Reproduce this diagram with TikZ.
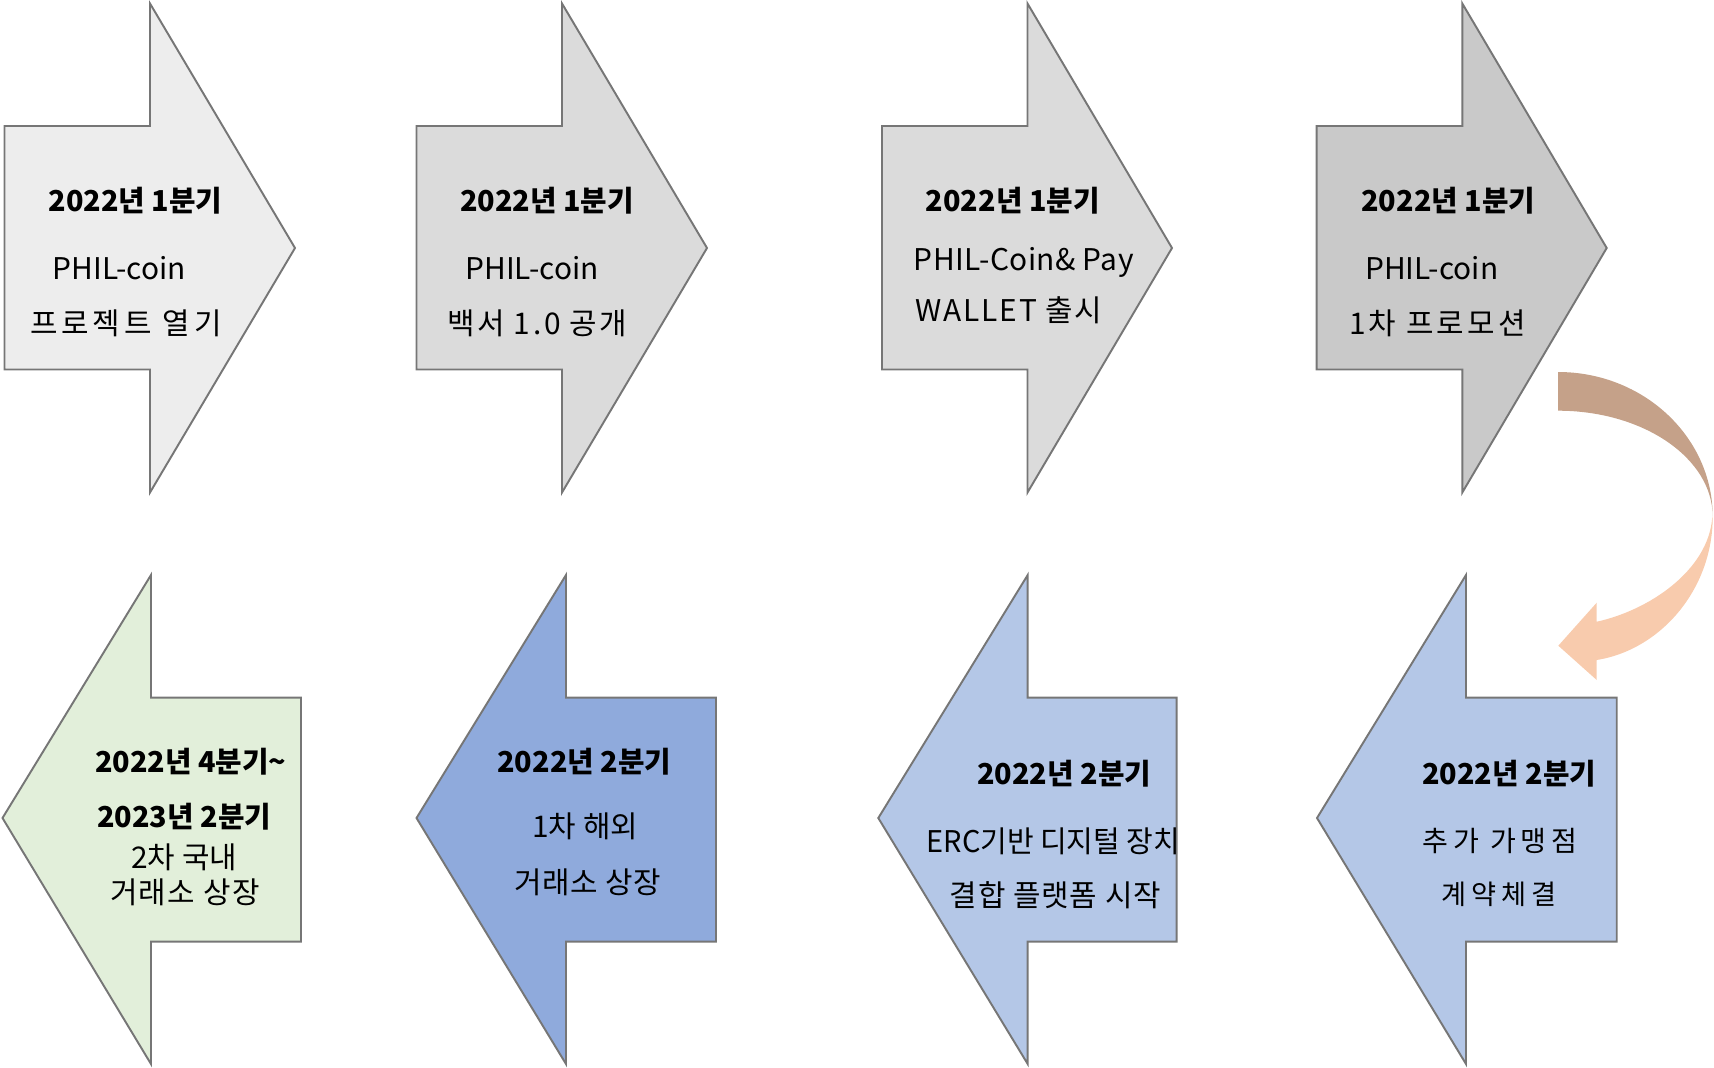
\documentclass[tikz,border=0pt]{standalone}
\usepackage{fontspec}
\setmainfont{Noto Sans CJK KR}
\usepackage{graphicx}
\definecolor{edgegray}{HTML}{767676}
\definecolor{fillA}{HTML}{EDEDED}
\definecolor{fillB}{HTML}{DBDBDB}
\definecolor{fillC}{HTML}{C9C9C9}
\definecolor{fillG}{HTML}{E2EFDA}
\definecolor{fillD}{HTML}{8FAADC}
\definecolor{fillL}{HTML}{B4C7E7}
\definecolor{curveTop}{HTML}{C5A189}
\definecolor{curveBot}{HTML}{F8CBAD}
\newcommand{\trk}[1]{\addfontfeature{LetterSpace=#1}}
\begin{document}
\begin{tikzpicture}[x=0.02cm,y=-0.02cm,
  shapebox/.style={draw=edgegray,line width=1.1pt,line join=miter},
  head/.style={font=\fontsize{16.4}{19}\selectfont\bfseries,inner sep=0pt},
  body/.style={font=\fontsize{17}{20}\selectfont,inner sep=0pt}]
\useasboundingbox (0,0) rectangle (1714,1068);
% top row: right-pointing arrows
\draw[shapebox,fill=fillA] (4.5,126) -- (150,126) -- (150,3.5) -- (295,248) -- (150,492.5) -- (150,369.5) -- (4.5,369.5) -- cycle;
\draw[shapebox,fill=fillB] (416.5,126) -- (562,126) -- (562,3.5) -- (707,248) -- (562,492.5) -- (562,369.5) -- (416.5,369.5) -- cycle;
\draw[shapebox,fill=fillB] (882,126) -- (1027.5,126) -- (1027.5,3.5) -- (1172,248) -- (1027.5,492.5) -- (1027.5,369.5) -- (882,369.5) -- cycle;
\draw[shapebox,fill=fillC] (1316.7,126) -- (1462.3,126) -- (1462.3,3.5) -- (1606.7,248) -- (1462.3,492.5) -- (1462.3,369.5) -- (1316.7,369.5) -- cycle;
% bottom row: left-pointing arrows
\draw[shapebox,fill=fillG] (2.5,818) -- (151,575) -- (151,697.7) -- (301,697.7) -- (301,941.7) -- (151,941.7) -- (151,1064) -- cycle;
\draw[shapebox,fill=fillD] (416.5,818) -- (566,575) -- (566,697.7) -- (716,697.7) -- (716,941.7) -- (566,941.7) -- (566,1064) -- cycle;
\draw[shapebox,fill=fillL] (878.3,818) -- (1027.7,575) -- (1027.7,697.7) -- (1176.7,697.7) -- (1176.7,941.7) -- (1027.7,941.7) -- (1027.7,1064) -- cycle;
\draw[shapebox,fill=fillL] (1317,818) -- (1466,575) -- (1466,697.7) -- (1616.7,697.7) -- (1616.7,941.7) -- (1466,941.7) -- (1466,1064) -- cycle;
% curved connector arrow
\fill[curveTop] (1558,372) .. controls (1643.4,372) and (1712.7,436.9) .. (1712.7,516.7)
  .. controls (1712.7,458.2) and (1643.4,410.7) .. (1558,410.7) -- cycle;
\fill[curveBot] (1712.7,516.7) .. controls (1712.7,590) and (1660,650) .. (1596.7,660)
  -- (1596.7,680) -- (1558.3,645.7) -- (1596.7,602.7) -- (1596.7,621.7)
  .. controls (1650,610) and (1708,570) .. (1712.2,518) -- cycle;
% texts
\node[head] (h1) at (135.5,201) {2022년 1분기};
\node[body] (a1) at (119.3,268) {PHIL-coin};
\node[body] (b1) at (125.8,323) {\trk{13.3}프로젝트 열기};
\node[head] (h2) at (547,201) {2022년 1분기};
\node[body] (a2) at (532,268) {PHIL-coin};
\node[body] (b2) at (537.3,323) {\trk{8.7}백서 1.0 공개};
\node[head] (h3) at (1012.8,201) {2022년 1분기};
\node[body] (a3) at (1023.7,262) {\trk{1.5}PHIL-Coin\&\ Pay};
\node[body] (b3) at (1008.8,310) {\trk{6.3}WALLET 출시};
\node[head] (h4) at (1448.3,201) {2022년 1분기};
\node[body] (a4) at (1431.7,268) {PHIL-coin};
\node[body] (b4) at (1437.4,323) {\trk{10.8}1차 프로모션};
\node[head] (h5) at (190.8,761.7) {2022년 4분기\textasciitilde};
\node[head] (h5b) at (184.2,816.7) {2023년 2분기};
\node[body] (a5) at (184.2,857.5) {2차 국내};
\node[body] (b5) at (184.9,892.5) {\trk{4.7}거래소 상장};
\node[head] (h6) at (584.3,761.7) {2022년 2분기};
\node[body] (a6) at (585.2,826.7) {1차 해외};
\node[body] (b6) at (588,882.5) {\trk{2}거래소 상장};
\node[head] (h7) at (1064.2,773.3) {2022년 2분기};
\node[body] (a7) at (1053.3,841.7) {\scalebox{0.97}[1]{ERC기반 디지털 장치}};
\node[body] (b7) at (1055.4,895) {\trk{2.9}결합 플랫폼 시작};
\node[head] (h8) at (1509.2,773.3) {2022년 2분기};
\node[body] (a8) at (1500,840.8) {\fontsize{16}{19}\selectfont\trk{17}추가 가맹점};
\node[body] (b8) at (1499,894.5) {\fontsize{15.5}{18}\selectfont\trk{17.6}계약체결};
\end{tikzpicture}
\end{document}
